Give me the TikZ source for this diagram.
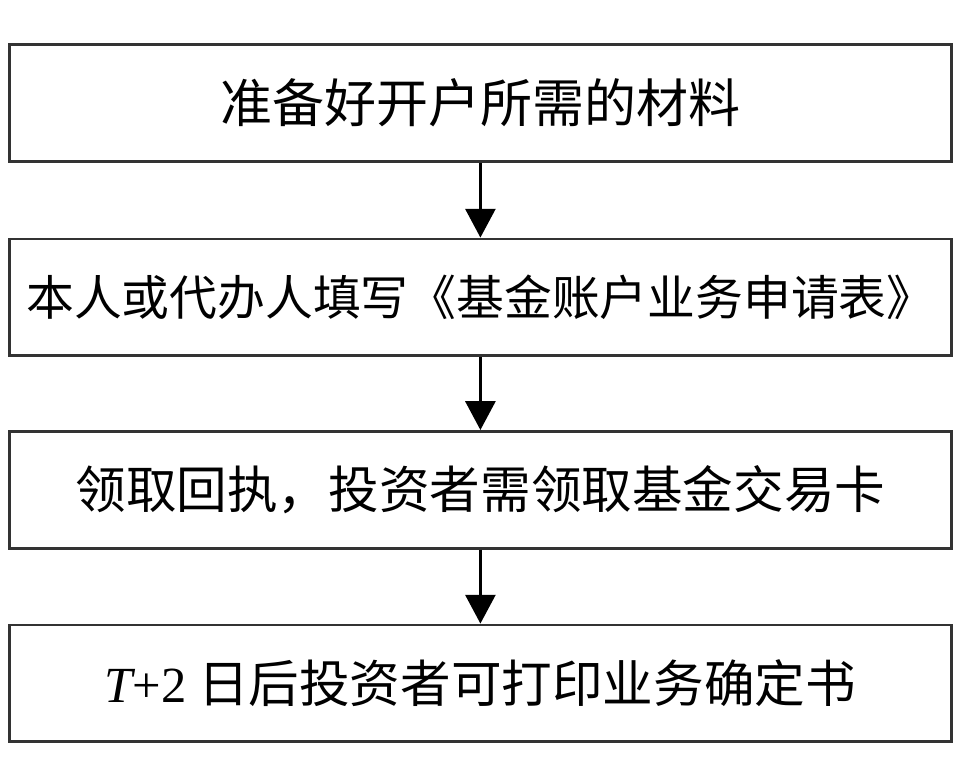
\documentclass[tikz,border=0pt]{standalone}
\usepackage{fontspec}
\setmainfont{Liberation Serif}
\newfontfamily\cjk{Noto Sans CJK SC}
\usepackage{tikz}
\usetikzlibrary{arrows.meta}

\begin{document}
\begin{tikzpicture}[
    stepbox/.style={draw=black!80,line width=2pt,fill=white,minimum width=23.55cm,minimum height=2.92cm,inner sep=0pt,font=\fontsize{36}{42}\selectfont\cjk},
    flow/.style={line width=2pt,-{Triangle[length=0.72cm,width=0.75cm]}}
]
    \useasboundingbox (0,0) rectangle (24,19.525);

    \node[stepbox,font=\fontsize{37}{42}\selectfont\cjk] (s1) at (12.01,16.95) {准备好开户所需的材料};
    \node[stepbox,font=\fontsize{34}{42}\selectfont\cjk] (s2) at (12.01,12.09) {本人或代办人填写《基金账户业务申请表》};
    \node[stepbox] (s3) at (12.01,7.28) {领取回执，投资者需领取基金交易卡};
    \node[stepbox] (s4) at (12.01,2.44) {{\rmfamily\itshape T}{\rmfamily +2} 日后投资者可打印业务确定书};

    \draw[flow] (s1)--(s2);
    \draw[flow] (s2)--(s3);
    \draw[flow] (s3)--(s4);
\end{tikzpicture}
\end{document}
